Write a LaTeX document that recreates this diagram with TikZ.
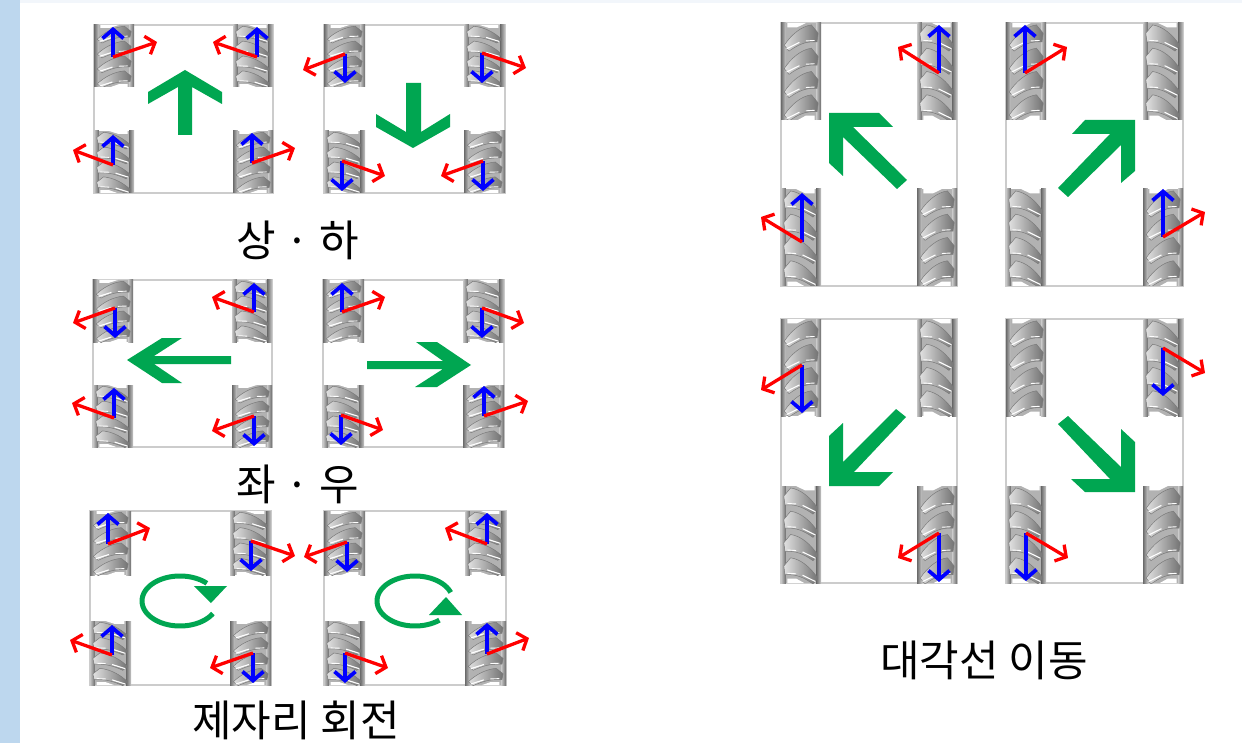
\documentclass[tikz,border=0pt]{standalone}
\usepackage{fontspec}
\setmainfont{Noto Sans CJK KR}
\usetikzlibrary{arrows.meta}
\definecolor{mgreen}{HTML}{00A651}
\definecolor{strip}{HTML}{BDD7EE}
\definecolor{topstrip}{HTML}{F2F6FB}
\tikzset{
  panelbox/.style={draw=black!20,line width=1.3pt,fill=white},
  bluevec/.style={blue,line width=3.7pt,-{Straight Barb[length=9pt,width=21pt,line width=3.7pt]}},
  redvec/.style={red,line width=3.3pt,-{Straight Barb[length=8pt,width=19pt,line width=3.3pt]}},
  bigarrow/.style={fill=mgreen,draw=none},
  ringline/.style={mgreen,line width=5pt},
  caption/.style={font=\fontsize{43}{43}\selectfont,anchor=center,inner sep=0pt}
}
\newcommand{\wheelbody}{%
  \clip (0,0) rectangle (1,1);
  \fill[black!30] (0,0) rectangle (1,1);
  \fill[white] (.16,0) -- (.62,0) -- (.4,.045) -- (.16,.045) -- cycle;
  \fill[white] (.42,1) -- (.84,1) -- (.84,.955) -- (.62,.955) -- cycle;
  \shade[left color=black!58,right color=black!22] (0,0) rectangle (.12,1);
  \shade[left color=black!22,right color=black!58] (.88,0) rectangle (1,1);
  \foreach \v in {.235,.475,.715,.955}{
    \shadedraw[left color=black!12,right color=black!55,draw=black!52,line width=.5pt]
      (.08,\v-.005) .. controls (.26,\v-.115) and (.5,\v-.2) .. (.76,\v-.215)
      -- (.93,\v-.13) -- (.9,\v-.04) .. controls (.62,\v-.05) and (.42,\v-.01) .. (.2,\v+.055) -- cycle;
    \draw[white,line width=1.1pt] (.14,\v+.03) -- (.46,\v-.035);
    \draw[white,line width=.9pt] (.62,\v-.05) -- (.84,\v-.055);
  }
}
% x y w h : rollers rising to the right
\newcommand{\wheelrise}[4]{\begin{scope}[shift={(#1,#2)},x=#3pt,y=-#4pt]\wheelbody\end{scope}}
% x y w h : rollers falling to the right (mirror image)
\newcommand{\wheelfall}[4]{\begin{scope}[shift={(#1+#3,#2)},x=-#3pt,y=-#4pt]\wheelbody\end{scope}}
% x0 y0 x1 y1 wheel-w wheel-h
\newcommand{\panel}[6]{%
  \draw[panelbox] (#1,#2) rectangle (#3,#4);
  \wheelrise{#1}{#2}{#5}{#6}
  \wheelfall{#3-#5}{#2}{#5}{#6}
  \wheelfall{#1}{#4-#6}{#5}{#6}
  \wheelrise{#3-#5}{#4-#6}{#5}{#6}
}
% origin, blue end, red end
\newcommand{\vecpair}[6]{%
  \draw[bluevec] (#1,#2) -- (#3,#4);
  \draw[redvec] (#1,#2) -- (#5,#6);
}
\newcommand{\ringarc}[4]{\draw[ringline] plot[domain=#3:#4,samples=70,smooth] ({#1+38*cos(\x)},{#2+25*sin(\x)});}
\begin{document}
\begin{tikzpicture}[x=1pt,y=-1pt]
\useasboundingbox (0,0) rectangle (1242,743);
\fill[white] (0,0) rectangle (1242,743);
\fill[topstrip] (0,0) rectangle (1242,3);
\fill[strip] (0,0) rectangle (20,743);

% --- up
\panel{94}{25}{273}{193}{40}{62}
\fill[bigarrow] (185,70) -- (222,92) -- (222,104) -- (192,87) -- (192,135) -- (178,135) -- (178,87) -- (148,104) -- (148,92) -- cycle;
\vecpair{113}{57}{113}{27}{157}{42}
\vecpair{257}{57}{257}{27}{213}{42}
\vecpair{113}{165}{113}{135}{73}{150}
\vecpair{252}{163}{252}{133}{295}{148}

% --- down
\panel{324}{25}{505}{193}{41}{62}
\fill[bigarrow] (406,83) -- (421,83) -- (421,132) -- (450,114) -- (450,127) -- (413,148) -- (376,127) -- (376,114) -- (406,132) -- cycle;
\vecpair{345}{54}{345}{83}{303}{70}
\vecpair{482}{53}{482}{83}{526}{68}
\vecpair{342}{161}{342}{191}{385}{176}
\vecpair{483}{161}{483}{191}{441}{176}

\node[caption] (labelA) at (298,240) {상 · 하};

% --- left
\panel{93}{280}{272}{447}{40}{62}
\fill[bigarrow] (127,360) -- (162,338) -- (182,338) -- (154,356) -- (231,356) -- (231,364) -- (154,364) -- (182,383) -- (162,383) -- cycle;
\vecpair{115}{308}{115}{338}{73}{323}
\vecpair{254}{312}{254}{283}{212}{297}
\vecpair{114}{418}{114}{388}{72}{403}
\vecpair{254}{416}{254}{446}{212}{431}

% --- right
\panel{323}{280}{504}{447}{41}{62}
\fill[bigarrow] (471,365) -- (437,342) -- (416,342) -- (443,361) -- (367,361) -- (367,369) -- (443,369) -- (415,387) -- (437,387) -- cycle;
\vecpair{342}{312}{342}{283}{385}{297}
\vecpair{482}{308}{482}{338}{524}{323}
\vecpair{341}{415}{341}{445}{383}{430}
\vecpair{484}{416}{484}{386}{528}{401}

\node[caption] (labelB) at (298,484) {좌 · 우};

% --- turn clockwise
\panel{90}{511}{271}{685}{41}{64}
\ringarc{180}{601}{30}{315}
\fill[mgreen] (194,586) -- (227,586) -- (211,603) -- cycle;
\vecpair{108}{544}{108}{513}{150}{528}
\vecpair{251}{541}{251}{571}{295}{556}
\vecpair{112}{655}{112}{625}{70}{640}
\vecpair{253}{653}{253}{683}{210}{668}

% --- turn counter-clockwise
\panel{324}{511}{506}{685}{41}{64}
\ringarc{415}{601}{-20}{-310}
\fill[mgreen] (429,615) -- (462,615) -- (446,597) -- cycle;
\vecpair{347}{542}{347}{572}{304}{557}
\vecpair{487}{544}{487}{513}{445}{528}
\vecpair{345}{653}{345}{683}{388}{668}
\vecpair{487}{654}{487}{623}{529}{638}

\node[caption] (labelC) at (296,720) {제자리 회전};

% --- diagonal up-left
\panel{781}{23}{957}{286}{40}{97}
\fill[bigarrow] (829,113) -- (879,113) -- (893,127) -- (853,127) -- (907,180) -- (897,189) -- (843,137) -- (843,176) -- (829,163) -- cycle;
\vecpair{939}{73}{939}{25}{898}{47}
\vecpair{802}{242}{802}{193}{761}{217}

% --- diagonal up-right
\panel{1006}{23}{1183}{286}{40}{97}
\fill[bigarrow] (1135,120) -- (1085,120) -- (1072,134) -- (1110,134) -- (1058,188) -- (1068,197) -- (1121,145) -- (1121,183) -- (1135,171) -- cycle;
\vecpair{1025}{73}{1025}{25}{1067}{47}
\vecpair{1163}{237}{1163}{189}{1205}{212}

% --- diagonal down-left
\panel{781}{319}{957}{583}{40}{97}
\fill[bigarrow] (829,486) -- (879,486) -- (893,472) -- (854,472) -- (906,417) -- (896,409) -- (843,462) -- (843,423) -- (829,436) -- cycle;
\vecpair{802}{365}{802}{413}{761}{390}
\vecpair{939}{533}{939}{582}{898}{558}

% --- diagonal down-right
\panel{1006}{319}{1183}{583}{40}{97}
\fill[bigarrow] (1135,492) -- (1085,492) -- (1071,479) -- (1110,479) -- (1058,424) -- (1068,416) -- (1121,467) -- (1121,429) -- (1135,442) -- cycle;
\vecpair{1163}{348}{1163}{396}{1205}{373}
\vecpair{1026}{533}{1026}{581}{1068}{558}

\node[caption] (labelD) at (984,660) {대각선 이동};
\end{tikzpicture}
\end{document}
